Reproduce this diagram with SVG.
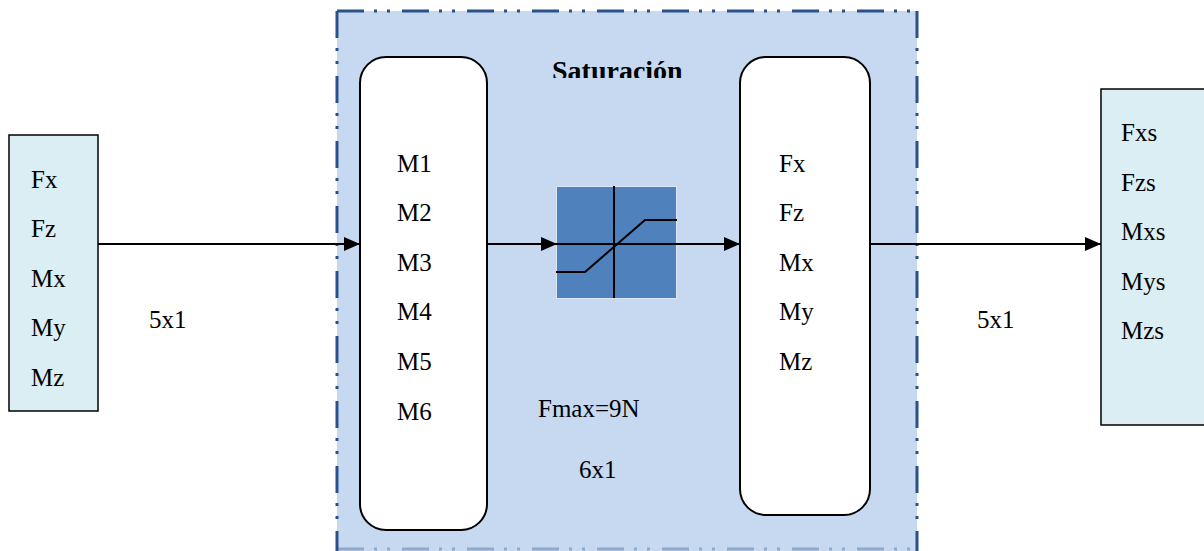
<svg xmlns="http://www.w3.org/2000/svg" width="1204" height="551" viewBox="0 0 1204 551" font-family="Liberation Serif, serif">
  <style>
    text { fill: #000; }
    .lbl { font-size: 25px; }
    .title { font-size: 28px; font-weight: bold; }
    .io { fill: #dbeef4; stroke: #000; stroke-width: 1.5; }
    .stage { fill: #ffffff; stroke: #000; stroke-width: 2; }
    .wire { stroke: #000; stroke-width: 2; fill: none; }
    .frame { fill: none; stroke: #2b5189; stroke-width: 3; stroke-dasharray: 27 10 3 10 3 12; }
  </style>
  <defs>
    <marker id="arrow" viewBox="0 0 16 14" refX="16" refY="7" markerWidth="16" markerHeight="14" markerUnits="userSpaceOnUse" orient="auto">
      <path d="M0,0 L16,7 L0,14 Z" fill="#000"/>
    </marker>
    <!-- the title sits partly under the band edge, so its lower strip is hidden -->
    <clipPath id="titleClip">
      <rect x="540" y="40" width="170" height="38"/>
    </clipPath>
  </defs>

  <!-- saturation subsystem frame -->
  <g id="subsystem">
    <rect x="337" y="11" width="580" height="540" fill="#c6d9f0"/>
    <path class="frame" d="M337,11 H917 M337,11 V551 M917,11 V551"/>
    <path class="frame" d="M337,549 H917" stroke-opacity="0.35"/>
    <text class="title" x="552" y="80" clip-path="url(#titleClip)">Saturación</text>
    <text class="lbl" x="538" y="417">Fmax=9N</text>
    <text class="lbl" x="579" y="478">6x1</text>
  </g>

  <!-- input vector -->
  <g id="input">
    <rect class="io" x="9" y="135" width="89" height="276"/>
    <text class="lbl" x="31" y="188">Fx</text>
    <text class="lbl" x="31" y="237">Fz</text>
    <text class="lbl" x="31" y="287">Mx</text>
    <text class="lbl" x="31" y="336">My</text>
    <text class="lbl" x="31" y="386">Mz</text>
  </g>

  <!-- motor commands -->
  <g id="motors">
    <rect class="stage" x="360" y="57" width="127" height="473" rx="26" ry="26"/>
    <text class="lbl" x="397" y="172">M1</text>
    <text class="lbl" x="397" y="221">M2</text>
    <text class="lbl" x="397" y="271">M3</text>
    <text class="lbl" x="397" y="320">M4</text>
    <text class="lbl" x="397" y="370">M5</text>
    <text class="lbl" x="397" y="420">M6</text>
  </g>

  <!-- saturation block -->
  <g id="saturation">
    <rect x="556.5" y="186.5" width="120" height="112" fill="#4f81bd" stroke="#dce6f2" stroke-width="1"/>
    <line x1="614" y1="186" x2="614" y2="298" stroke="#000" stroke-width="2"/>
    <polyline points="556,272 585,272 645,220 677,220" fill="none" stroke="#000" stroke-width="2"/>
  </g>

  <!-- saturated wrench -->
  <g id="wrench">
    <rect class="stage" x="740" y="57" width="130" height="458" rx="26" ry="26"/>
    <text class="lbl" x="779" y="172">Fx</text>
    <text class="lbl" x="779" y="221">Fz</text>
    <text class="lbl" x="779" y="271">Mx</text>
    <text class="lbl" x="779" y="320">My</text>
    <text class="lbl" x="779" y="370">Mz</text>
  </g>

  <!-- output vector -->
  <g id="output">
    <rect class="io" x="1101" y="89" width="110" height="336"/>
    <text class="lbl" x="1121" y="141">Fxs</text>
    <text class="lbl" x="1121" y="191">Fzs</text>
    <text class="lbl" x="1121" y="240">Mxs</text>
    <text class="lbl" x="1121" y="290">Mys</text>
    <text class="lbl" x="1121" y="339">Mzs</text>
  </g>

  <!-- connectors -->
  <g id="connectors">
    <line class="wire" x1="98" y1="244" x2="360" y2="244" marker-end="url(#arrow)"/>
    <line class="wire" x1="487" y1="244" x2="557" y2="244" marker-end="url(#arrow)"/>
    <line class="wire" x1="557" y1="244" x2="740" y2="244" marker-end="url(#arrow)"/>
    <line class="wire" x1="870" y1="244" x2="1101" y2="244" marker-end="url(#arrow)"/>
    <text class="lbl" x="149" y="328">5x1</text>
    <text class="lbl" x="977" y="328">5x1</text>
  </g>
</svg>
